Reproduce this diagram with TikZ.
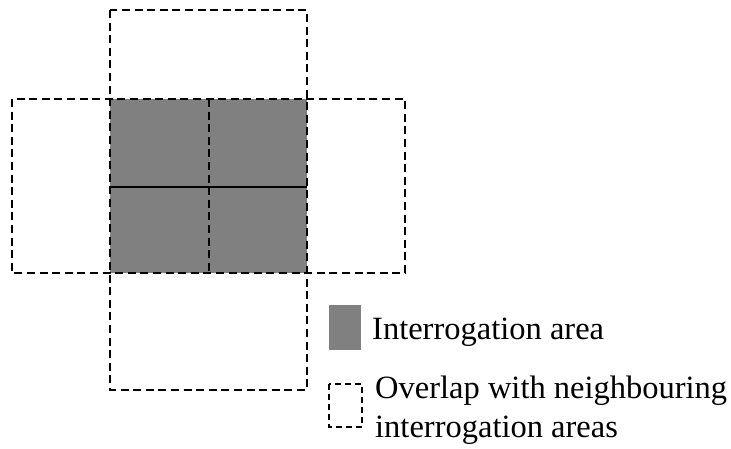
\documentclass[tikz,border=0pt]{standalone}
\usepackage{fontspec}
\setmainfont{Liberation Serif}
\usetikzlibrary{positioning}
\definecolor{areagrey}{HTML}{808080}
\tikzset{
  overlapline/.style={draw=black, line width=1.7pt, dash pattern=on 8pt off 4.6pt},
  keyline/.style={draw=black, line width=1.3pt, dash pattern=on 6pt off 4pt},
  gridline/.style={draw=black, line width=1.6pt},
  keytext/.style={font=\fontsize{32.5}{39}\selectfont, inner sep=0pt, align=left}
}

\begin{document}
\begin{tikzpicture}[x=1pt, y=-1pt]
\useasboundingbox (0,0) rectangle (731,448);
% interrogation area
\fill[areagrey] (110,99) rectangle (307,273);
\draw[gridline] (110,187) -- (307,187);
\draw[overlapline] (209,99) -- (209,273);
% overlapping neighbours
\draw[overlapline] (110,10) rectangle (307,390);
\draw[overlapline] (12,99) rectangle (405,273);
% key
\fill[areagrey] (329,305) rectangle (361,350);
\node[keytext, anchor=base west] (areatext) at (372,339) {Interrogation area};
\draw[keyline] (329,384) rectangle (362,427);
\node[keytext, anchor=base west] (overlaptext) at (375,437)
  {Overlap with neighbouring\\interrogation areas};
\end{tikzpicture}
\end{document}
